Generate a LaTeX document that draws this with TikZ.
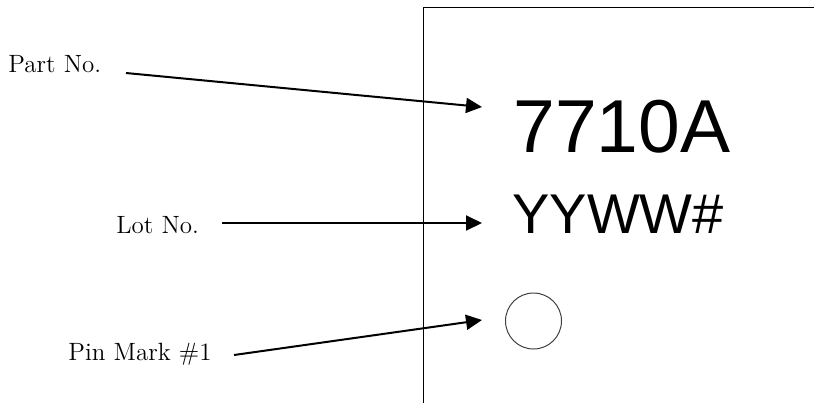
\documentclass[tikz,border=0pt]{standalone}
\usepackage{fontspec}
\newfontfamily\markfont{Liberation Sans}
\usetikzlibrary{arrows.meta}
\tikzset{
  lbl/.style={anchor=base west, inner sep=0pt, font=\fontsize{12.5}{15}\selectfont},
  marking/.style={anchor=base west, inner sep=0pt},
  pointer/.style={-{Triangle[length=8pt,width=7.5pt]}, line width=1pt},
}
\begin{document}
\begin{tikzpicture}[x=0.5pt,y=-0.5pt]
	    \useasboundingbox (0,0) rectangle (814,403);
	    % package outline
	    \draw[line width=0.5pt] (423,403) -- (423,7.5) -- (814,7.5);
	    % marking
	    \node[marking, font=\markfont\fontsize{37.5}{40}\selectfont] (partno) at (513,152) {7710A};
	    \node[marking, font=\markfont\fontsize{28}{32}\selectfont] (lotno) at (512,233) {YYWW\#};
	    \draw[line width=0.5pt, black!75] (533.5,321) circle (28);
	    % labels
	    \node[lbl] (partlbl) at (8,72) {Part No.};
	    \node[lbl] (lotlbl) at (116,233) {Lot No.};
	    \node[lbl] (pinlbl) at (68,360) {Pin Mark \#1};
	    \coordinate (parttail) at (126,73);
	    \coordinate (parttip) at (482,107);
	    \coordinate (lottail) at (222,223);
	    \coordinate (lottip) at (482,223);
	    \coordinate (pintail) at (234,355);
	    \coordinate (pintip) at (482,320);
	    \draw[pointer] (parttail) -- (parttip);
	    \draw[pointer] (lottail) -- (lottip);
	    \draw[pointer] (pintail) -- (pintip);
\end{tikzpicture}
\end{document}
